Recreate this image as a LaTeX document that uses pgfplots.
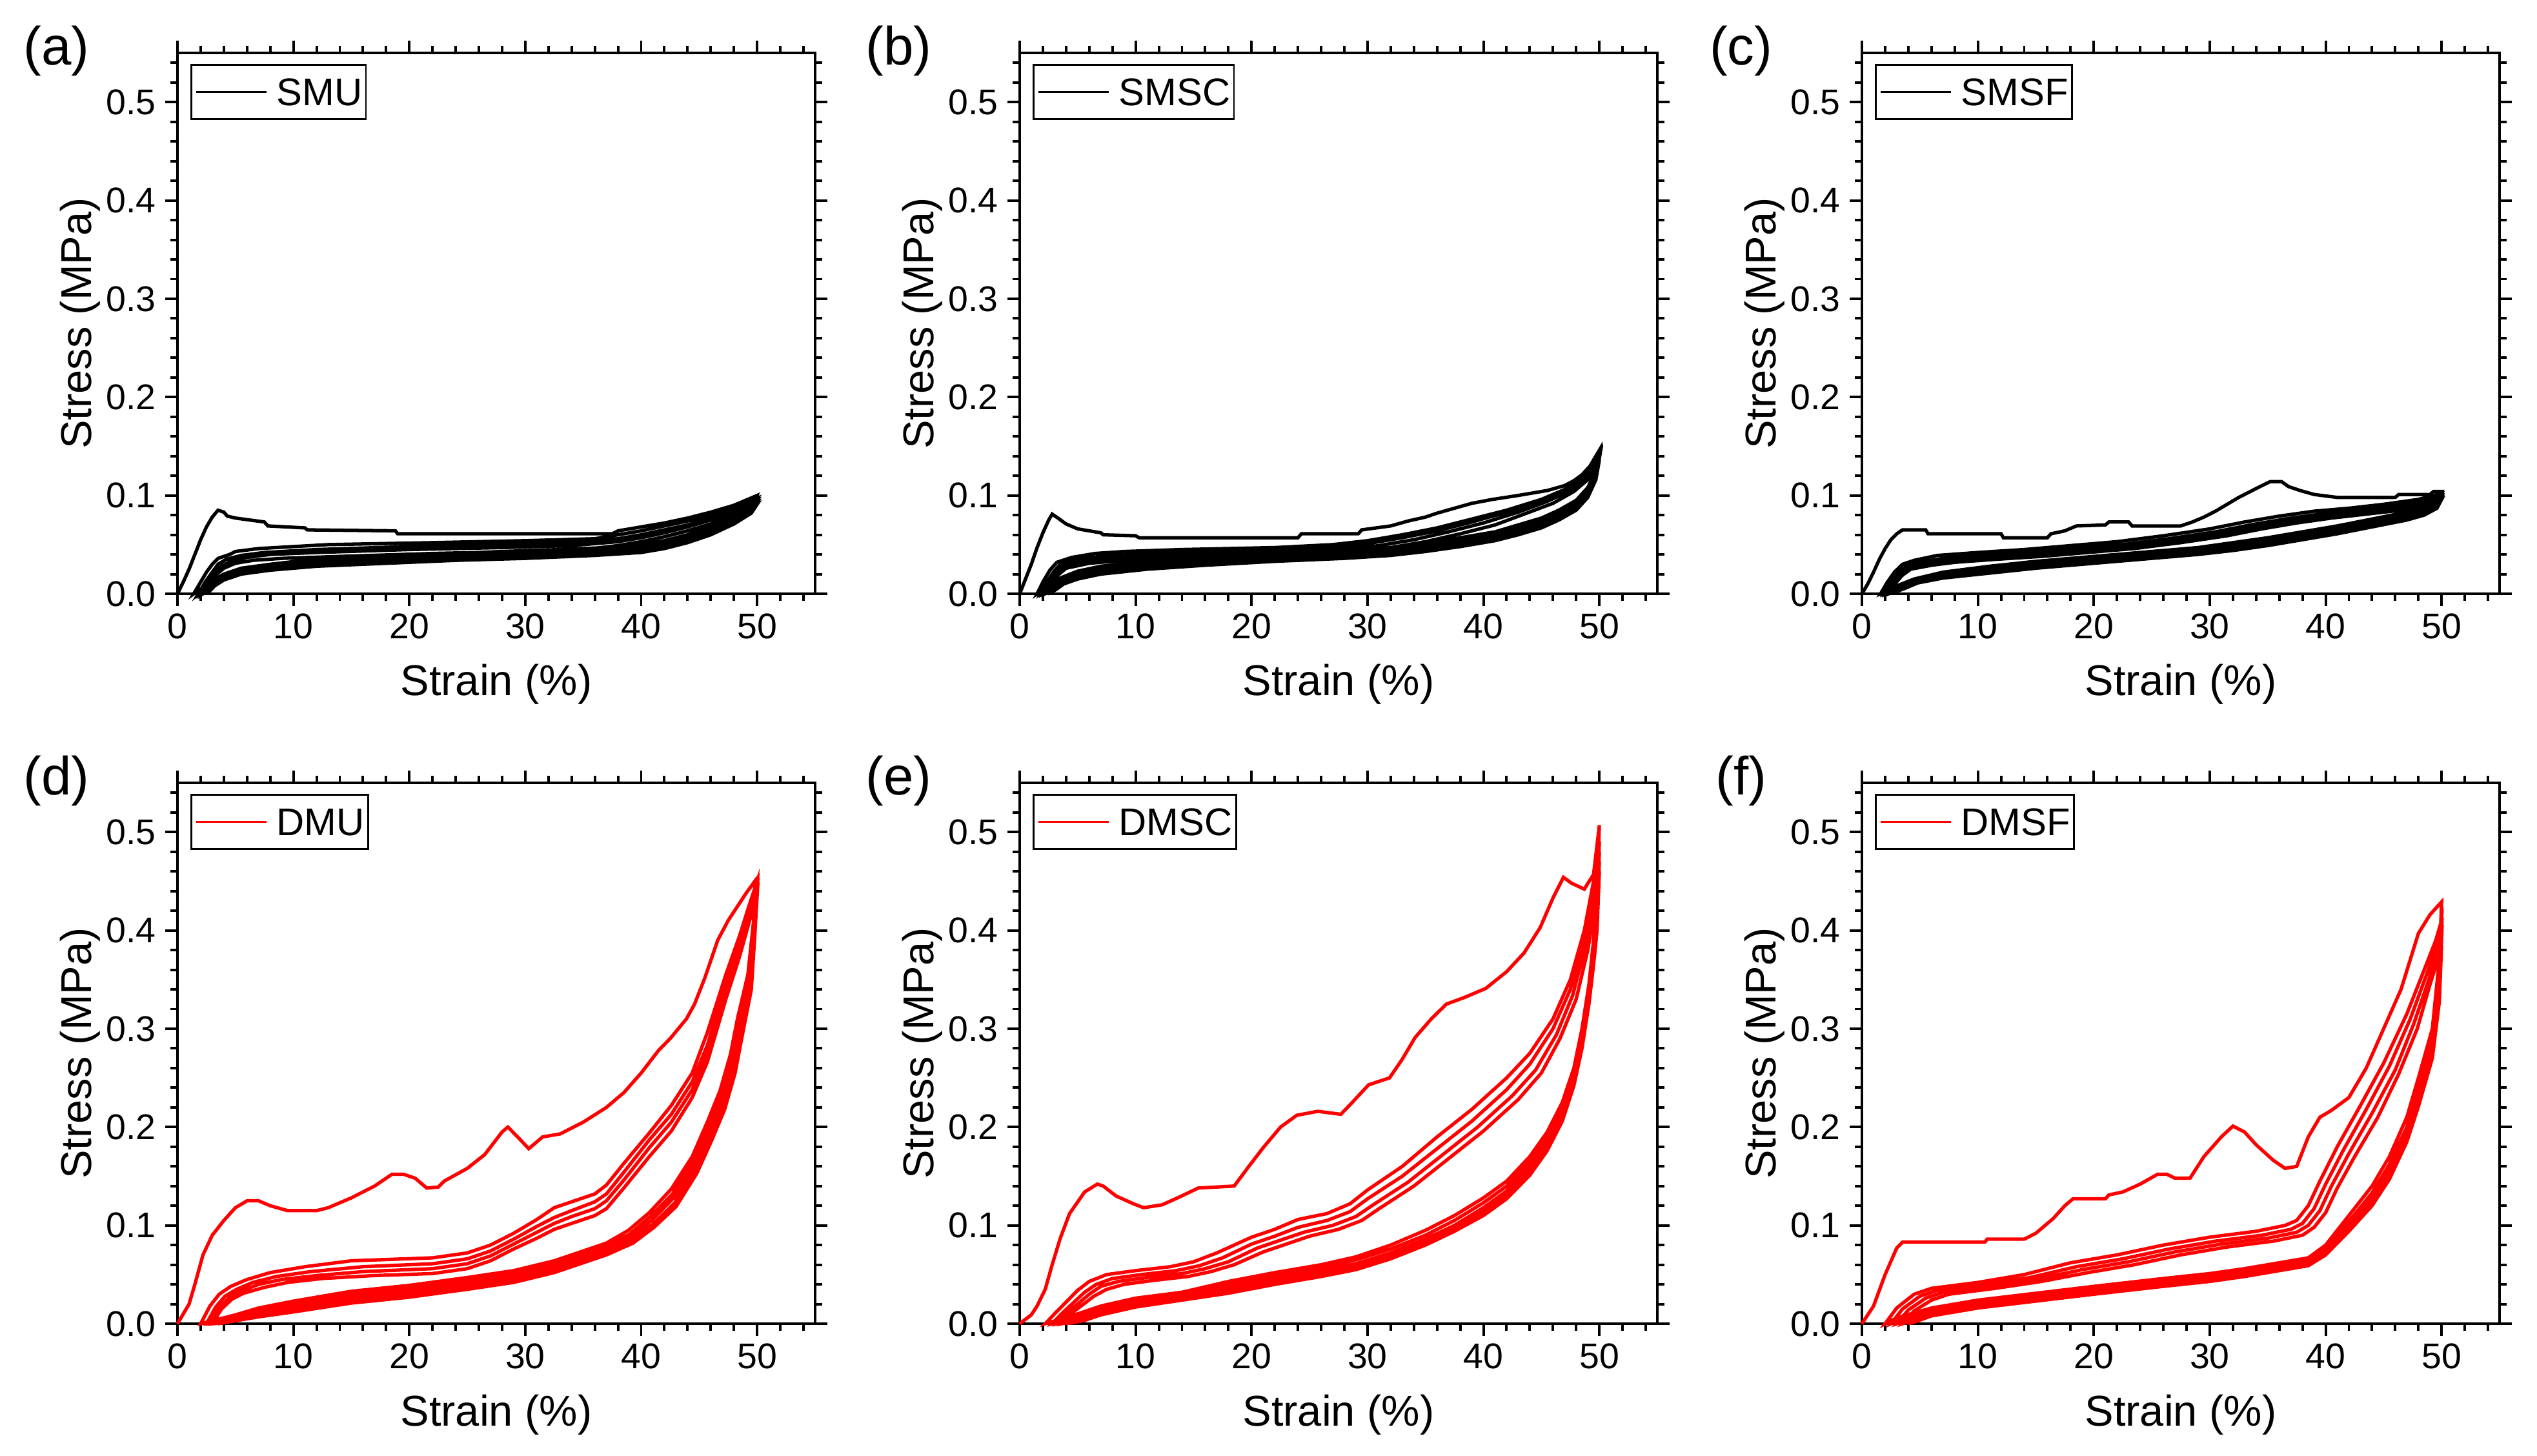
\documentclass[border=0pt]{standalone}
\usepackage{fontspec}
\setmainfont{Liberation Sans}
\usepackage{pgfplots}
\pgfplotsset{compat=1.18}
\definecolor{dred}{RGB}{255,0,0}
\tikzset{plab/.style={font=\fontsize{9.5}{11}\selectfont, anchor=center, inner sep=0pt}}
\pgfplotsset{
 panel/.style={
  scale only axis, width=39.52mm, height=33.52mm,
  xmin=0, xmax=55, ymin=0, ymax=0.55, clip=false,
  xtick={0,10,20,30,40,50}, ytick={0,0.1,0.2,0.3,0.4,0.5},
  minor xtick={2,4,6,8,12,14,16,18,22,24,26,28,32,34,36,38,42,44,46,48,52,54},
  minor ytick={0.02,0.04,0.06,0.08,0.12,0.14,0.16,0.18,0.22,0.24,0.26,0.28,0.32,0.34,0.36,0.38,0.42,0.44,0.46,0.48,0.52,0.54},
  tick align=outside,
  major tick length=0.75mm, minor tick length=0.44mm,
  tick style={black, line width=0.45pt},
  axis line style={line width=0.5pt},
  scaled y ticks=false,
  yticklabel style={/pgf/number format/fixed, /pgf/number format/fixed zerofill, /pgf/number format/precision=1},
  /pgf/number format/assume math mode=true,
  tick label style={font=\fontsize{6.3}{7}\selectfont},
  xticklabel style={anchor=base, inner sep=0pt, yshift=-2.04mm},
  yticklabel style={anchor=east, inner sep=0pt, xshift=-0.52mm},
  label style={font=\fontsize{7.6}{9}\selectfont},
  xlabel={Strain (\%)}, ylabel={Stress (MPa)},
  xlabel style={at={(axis description cs:0.5,-0.1885)}, anchor=base, inner sep=0pt},
  ylabel style={at={(axis description cs:-0.1355,0.5)}, anchor=base, inner sep=0pt},
  legend style={at={(axis description cs:0,1)}, anchor=north west, xshift=0.8mm, yshift=-0.68mm,
    draw=black, line width=0.3pt, inner sep=0pt, row sep=0pt, column sep=0pt,
    font=\fontsize{6.8}{8}\selectfont, nodes={inner sep=0pt, text depth=, text height=}},
  legend image code/.code={\draw[#1, line width=0.37pt] (0.32mm,0mm) -- (4.68mm,0mm); \path[draw=none] (0mm,0mm) -- (5.3mm,0mm);},
 },
}
\newcommand{\lent}[1]{\addlegendentry{\vrule width 0pt height 2.54mm depth 0.82mm #1\hspace*{0.22mm}}}
\begin{document}
\begin{tikzpicture}
\useasboundingbox (0,0) rectangle (157.24mm,90.2mm);
% ---------------- (a) SMU
\begin{axis}[panel, at={(11.0mm,53.4mm)}, anchor=south west]
\addplot[black, line width=0.6pt] coordinates {
(0,0) (0.5,0.012) (1,0.025) (1.5,0.04) (2,0.055) (2.5,0.068) (3,0.078) (3.5,0.085) (4,0.083) (4.3,0.079) (5,0.077) (7.5,0.073) (7.8,0.069) (11,0.067) (11.2,0.065) (18.8,0.064) (19,0.061) (37.5,0.061) (38,0.064) (40,0.068) (42,0.072) (44,0.077) (46,0.083) (48,0.09) (50,0.1)
(49.8,0.092) (49,0.085) (48,0.078) (46,0.068) (44,0.06) (42,0.054) (40,0.05) (37,0.047) (33,0.045) (28,0.043) (22,0.04) (16,0.037) (11,0.034) (8,0.03) (5.5,0.026) (4,0.02) (3,0.013) (2,0.005) (1.4,0)
(2,0.012) (2.5,0.022) (3,0.03) (3.5,0.036) (4.5,0.04) (5,0.043) (7,0.046) (13,0.05) (22,0.052) (30,0.054) (36,0.056) (38,0.06) (40,0.064) (42,0.069) (44,0.074) (46,0.08) (48,0.087) (50,0.097)
(49.5,0.088) (48,0.077) (46,0.066) (44,0.058) (42,0.052) (40,0.048) (36,0.045) (30,0.042) (24,0.04) (18,0.036) (12,0.033) (8,0.029) (5.5,0.025) (4,0.019) (3,0.012) (2.2,0.004) (1.8,0)
(2.4,0.012) (3,0.022) (3.5,0.03) (4.2,0.035) (5.5,0.039) (7.5,0.042) (12,0.045) (20,0.048) (28,0.05) (34,0.052) (38,0.056) (40,0.06) (42,0.065) (44,0.07) (46,0.077) (48,0.085) (50,0.095)
(49.5,0.086) (48,0.075) (46,0.064) (44,0.056) (42,0.05) (40,0.046) (36,0.043) (30,0.04) (24,0.038) (18,0.034) (12,0.031) (8,0.027) (5.5,0.023) (4,0.017) (3,0.01) (2.4,0.003) (2,0)
(2.6,0.012) (3.2,0.021) (3.8,0.028) (4.6,0.033) (6,0.037) (8,0.04) (12,0.042) (20,0.045) (28,0.047) (34,0.049) (38,0.053) (40,0.057) (42,0.062) (44,0.068) (46,0.075) (48,0.083) (50,0.093)
(49.5,0.084) (48,0.073) (46,0.062) (44,0.054) (42,0.048) (40,0.044) (36,0.041) (30,0.038) (24,0.036) (18,0.033) (12,0.03) (8,0.026) (5.5,0.022) (4,0.016) (3.2,0.009) (2.6,0.003) (2.2,0)
(2.8,0.011) (3.4,0.02) (4,0.026) (5,0.031) (6.5,0.034) (9,0.036) (14,0.038) (22,0.041) (30,0.043) (35,0.045) (38,0.049) (40,0.053) (42,0.058) (44,0.064) (46,0.071) (48,0.08) (50,0.091)
(49.5,0.082) (48,0.071) (46,0.06) (44,0.052) (42,0.046) (40,0.042) (36,0.039) (30,0.036) (24,0.034) (18,0.031) (12,0.028) (8,0.024) (5.5,0.02) (4,0.014) (3.2,0.008) (2.8,0.003) (2.4,0)
};
\lent{SMU}
\node[plab] at (axis description cs:-0.1896,1.0042) {(a)};
\end{axis}
% ---------------- (b) SMSC
\begin{axis}[panel, at={(63.2mm,53.4mm)}, anchor=south west]
\addplot[black, line width=0.6pt] coordinates {
(0,0) (0.5,0.015) (1,0.03) (1.5,0.047) (2,0.062) (2.5,0.075) (2.8,0.081) (3.3,0.077) (4,0.071) (5,0.066) (7,0.062) (7.2,0.06) (10,0.059) (10.3,0.057) (24,0.057) (24.3,0.061) (29.2,0.061) (29.5,0.065) (32,0.069) (33.5,0.074) (35,0.078) (36,0.082) (37.5,0.087) (39,0.092) (40.8,0.096) (43,0.1) (45.5,0.105) (47,0.11) (47.8,0.115) (48.5,0.121) (49.2,0.13) (50,0.146)
(49.7,0.125) (49,0.108) (48,0.095) (46.5,0.085) (45,0.077) (43,0.07) (41,0.063) (38,0.057) (35,0.051) (32,0.047) (28,0.044) (22,0.041) (16,0.037) (11,0.033) (7,0.028) (5,0.023) (3.5,0.016) (2.5,0.008) (1.5,0)
(2,0.012) (2.6,0.024) (3.2,0.032) (4.5,0.037) (6.5,0.041) (9,0.043) (14,0.045) (22,0.047) (27,0.05) (30,0.054) (33,0.06) (36,0.067) (39,0.076) (42,0.085) (45,0.096) (47,0.106) (48.5,0.118) (49.5,0.13) (50,0.142)
(49.7,0.122) (49,0.105) (48,0.092) (46.5,0.082) (45,0.074) (43,0.067) (41,0.06) (38,0.054) (35,0.049) (32,0.045) (28,0.042) (22,0.039) (16,0.035) (11,0.031) (7,0.026) (5,0.021) (3.5,0.014) (2.6,0.006) (1.8,0)
(2.3,0.011) (2.9,0.022) (3.5,0.03) (5,0.035) (7,0.038) (10,0.04) (15,0.042) (22,0.044) (27,0.047) (30,0.051) (33,0.057) (36,0.064) (39,0.073) (42,0.083) (45,0.094) (47,0.104) (48.5,0.116) (49.5,0.128) (50,0.14)
(49.7,0.12) (49,0.102) (48,0.089) (46.5,0.079) (45,0.071) (43,0.064) (41,0.058) (38,0.052) (35,0.047) (32,0.043) (28,0.04) (22,0.037) (16,0.033) (11,0.029) (7,0.024) (5,0.019) (3.6,0.012) (2.8,0.005) (2,0)
(2.5,0.011) (3.1,0.021) (3.8,0.028) (5.5,0.033) (8,0.036) (12,0.038) (18,0.04) (24,0.042) (28,0.045) (31,0.049) (34,0.055) (37,0.063) (40,0.072) (43,0.083) (45.5,0.094) (47.5,0.105) (48.8,0.117) (49.6,0.128) (50,0.138)
(49.7,0.118) (49,0.1) (48,0.087) (46.5,0.077) (45,0.069) (43,0.062) (41,0.056) (38,0.05) (35,0.045) (32,0.041) (28,0.038) (22,0.035) (16,0.031) (11,0.027) (7,0.022) (5,0.017) (3.7,0.011) (3,0.004) (2.2,0)
(2.7,0.01) (3.3,0.019) (4,0.026) (6,0.031) (9,0.034) (13,0.036) (19,0.038) (25,0.04) (29,0.043) (32,0.047) (35,0.053) (38,0.061) (41,0.07) (43.5,0.081) (46,0.092) (47.8,0.104) (49,0.116) (49.7,0.127) (50,0.136)
(49.7,0.116) (49,0.098) (48,0.085) (46.5,0.075) (45,0.067) (43,0.06) (41,0.054) (38,0.048) (35,0.043) (32,0.039) (28,0.036) (22,0.033) (16,0.029) (11,0.025) (7,0.02) (5,0.015) (3.8,0.01) (3.1,0.004) (2.4,0)
};
\lent{SMSC}
\node[plab] at (axis description cs:-0.1896,1.0042) {(b)};
\end{axis}
% ---------------- (c) SMSF
\begin{axis}[panel, at={(115.4mm,53.4mm)}, anchor=south west]
\addplot[black, line width=0.6pt] coordinates {
(0,0) (0.5,0.01) (1,0.022) (1.5,0.035) (2,0.046) (2.5,0.055) (3,0.061) (3.5,0.065) (5.5,0.065) (5.7,0.061) (12,0.061) (12.2,0.057) (16,0.057) (16.3,0.061) (17.5,0.064) (18.5,0.069) (21,0.07) (21.3,0.073) (23,0.073) (23.3,0.069) (27.5,0.069) (28.5,0.073) (29.5,0.078) (30.5,0.084) (31.5,0.091) (32.5,0.098) (33.5,0.104) (34.5,0.11) (35.2,0.114) (36.2,0.114) (36.8,0.109) (37.8,0.105) (39,0.101) (41,0.098) (46,0.098) (46.3,0.101) (49,0.101) (49.3,0.104) (50,0.104)
(49.6,0.095) (48.5,0.088) (47,0.083) (44,0.076) (41,0.069) (38,0.063) (35,0.057) (32,0.052) (29,0.047) (25,0.043) (20,0.038) (15,0.033) (11,0.028) (7,0.022) (4.5,0.015) (3,0.008) (2,0.002) (1.6,0)
(2.2,0.012) (2.8,0.022) (3.5,0.03) (4.5,0.034) (6.5,0.039) (10,0.042) (14,0.045) (18,0.049) (22,0.053) (26,0.059) (30,0.066) (33,0.073) (36,0.079) (39,0.084) (42,0.087) (45,0.091) (48,0.096) (50,0.102)
(49.6,0.093) (48.5,0.086) (47,0.081) (44,0.074) (41,0.067) (38,0.061) (35,0.055) (32,0.05) (29,0.046) (25,0.042) (20,0.037) (15,0.032) (11,0.027) (7,0.021) (4.5,0.014) (3.2,0.007) (2.3,0.002) (1.9,0)
(2.5,0.012) (3.1,0.021) (3.8,0.028) (5,0.032) (7,0.036) (10.5,0.039) (14.5,0.042) (18.5,0.046) (22.5,0.05) (26.5,0.056) (30.5,0.063) (33.5,0.07) (36.5,0.076) (39.5,0.081) (42.5,0.085) (45.5,0.089) (48,0.094) (50,0.1)
(49.6,0.091) (48.5,0.084) (47,0.079) (44,0.072) (41,0.065) (38,0.059) (35,0.053) (32,0.048) (29,0.044) (25,0.04) (20,0.035) (15,0.03) (11,0.025) (7,0.019) (4.6,0.013) (3.4,0.006) (2.5,0.002) (2.1,0)
(2.7,0.011) (3.3,0.02) (4,0.026) (5.5,0.03) (7.5,0.034) (11,0.037) (15,0.04) (19,0.044) (23,0.048) (27,0.054) (31,0.061) (34,0.068) (37,0.074) (40,0.079) (43,0.083) (46,0.087) (48.5,0.092) (50,0.098)
(49.6,0.089) (48.5,0.082) (47,0.077) (44,0.07) (41,0.063) (38,0.057) (35,0.051) (32,0.046) (29,0.042) (25,0.038) (20,0.033) (15,0.028) (11,0.023) (7,0.018) (4.7,0.012) (3.5,0.006) (2.7,0.002) (2.3,0)
(2.9,0.011) (3.5,0.019) (4.2,0.025) (6,0.029) (8,0.032) (11.5,0.035) (15.5,0.038) (19.5,0.042) (23.5,0.046) (27.5,0.052) (31.5,0.059) (34.5,0.066) (37.5,0.072) (40.5,0.077) (43.5,0.081) (46.5,0.085) (48.7,0.09) (50,0.096)
(49.6,0.087) (48.5,0.08) (47,0.075) (44,0.068) (41,0.061) (38,0.055) (35,0.049) (32,0.044) (29,0.04) (25,0.036) (20,0.031) (15,0.026) (11,0.021) (7,0.016) (4.8,0.011) (3.6,0.005) (2.9,0.002) (2.5,0)
};
\lent{SMSF}
\node[plab] at (axis description cs:-0.1896,1.0042) {(c)};
\end{axis}
% ---------------- (d) DMU
\begin{axis}[panel, at={(11.0mm,8.16mm)}, anchor=south west]
\addplot[dred, line width=0.6pt] coordinates {
(0,0) (0.5,0.01) (1,0.02) (1.5,0.04) (2.2,0.07) (3,0.09) (4,0.105) (5,0.118) (6,0.125) (7,0.125) (8,0.12) (9.5,0.115) (12,0.115) (13,0.118) (15,0.128) (17,0.14) (18.5,0.152) (19.5,0.152) (20.5,0.148) (21.5,0.138) (22.5,0.139) (23,0.145) (25,0.158) (26.5,0.172) (28,0.195) (28.5,0.2) (29.5,0.188) (30.3,0.178) (31.5,0.19) (33,0.193) (35,0.205) (37,0.22) (38.5,0.235) (40,0.255) (41.5,0.278) (42.5,0.29) (43.9,0.31) (44.6,0.325) (45.5,0.352) (46.6,0.39) (47.5,0.41) (49,0.437) (49.8,0.45)
(49.7,0.41) (49.2,0.355) (48.3,0.31) (47.7,0.274) (46.8,0.237) (45.7,0.205) (44.4,0.17) (42.6,0.137) (40.7,0.113) (38.9,0.095) (37,0.082) (34,0.07) (32.5,0.064) (29,0.054) (25,0.047) (20,0.039) (15,0.033) (10,0.023) (7,0.016) (5,0.009) (3,0.003) (2,0)
(2.8,0.018) (3.6,0.03) (4.6,0.038) (6,0.045) (8,0.052) (11,0.058) (15,0.064) (22,0.067) (25,0.072) (27,0.08) (29,0.092) (31,0.106) (32.5,0.118) (34,0.124) (36,0.132) (37,0.141) (38.5,0.163) (40.7,0.194) (42.6,0.222) (44.4,0.255) (45.7,0.296) (47.3,0.355) (48.5,0.395) (49.3,0.425) (50,0.45)
(49.8,0.41) (49.3,0.352) (48.4,0.305) (47.8,0.27) (46.9,0.232) (45.8,0.2) (44.5,0.166) (42.7,0.132) (40.8,0.109) (39,0.091) (37,0.079) (34,0.067) (32.5,0.061) (29,0.051) (25,0.044) (20,0.036) (15,0.03) (10,0.02) (7,0.013) (5,0.007) (3.5,0.002) (2.5,0)
(3.3,0.017) (4.1,0.028) (5.1,0.035) (6.5,0.042) (8.5,0.048) (11.5,0.053) (16,0.058) (22,0.061) (25,0.066) (27,0.074) (29,0.086) (31,0.099) (32.5,0.108) (34,0.115) (36,0.124) (37,0.132) (38.5,0.154) (40.7,0.187) (42.6,0.213) (44.4,0.246) (45.7,0.283) (47.3,0.345) (48.5,0.388) (49.3,0.42) (50,0.445)
(49.8,0.405) (49.4,0.348) (48.5,0.3) (47.9,0.265) (47,0.227) (45.9,0.196) (44.6,0.161) (42.8,0.128) (40.9,0.105) (39.1,0.088) (37,0.076) (34,0.064) (32.5,0.058) (29,0.048) (25,0.041) (20,0.033) (15,0.027) (10,0.017) (7,0.011) (5,0.005) (3.8,0.001) (2.8,0)
(3.6,0.016) (4.4,0.026) (5.4,0.033) (7,0.04) (9,0.045) (12,0.049) (16,0.053) (22,0.056) (25,0.061) (27,0.069) (29,0.081) (31,0.093) (32.5,0.102) (34,0.109) (36,0.117) (37,0.125) (38.5,0.146) (40.7,0.179) (42.6,0.205) (44.4,0.238) (45.7,0.275) (47.3,0.338) (48.5,0.381) (49.3,0.414) (50,0.44)
(49.8,0.4) (49.5,0.344) (48.6,0.296) (48,0.26) (47.1,0.222) (46,0.191) (44.7,0.157) (42.9,0.123) (41,0.101) (39.2,0.085) (37,0.073) (34,0.061) (32.5,0.055) (29,0.045) (25,0.038) (20,0.03) (15,0.024) (10,0.014) (7,0.009) (5,0.004) (4,0.001) (3,0)
(3.8,0.015) (4.7,0.025) (5.7,0.031) (7.5,0.037) (9.5,0.042) (12.5,0.046) (17,0.049) (22,0.051) (25,0.056) (27,0.064) (29,0.076) (31,0.087) (32.5,0.096) (34,0.102) (36,0.11) (37,0.117) (38.5,0.138) (40.7,0.17) (42.6,0.196) (44.4,0.23) (45.7,0.266) (47.3,0.33) (48.5,0.374) (49.3,0.408) (50,0.435)
(49.8,0.395) (49.5,0.34) (48.7,0.292) (48.1,0.255) (47.2,0.218) (46.1,0.187) (44.8,0.153) (43,0.119) (41.1,0.098) (39.3,0.082) (37,0.07) (34,0.058) (32.5,0.052) (29,0.042) (25,0.035) (20,0.027) (15,0.021) (10,0.012) (7,0.007) (5,0.003) (3.5,0)
};
\lent{DMU}
\node[plab] at (axis description cs:-0.1896,1.0042) {(d)};
\end{axis}
% ---------------- (e) DMSC
\begin{axis}[panel, at={(63.2mm,8.16mm)}, anchor=south west]
\addplot[dred, line width=0.6pt] coordinates {
(0,0) (1,0.009) (1.5,0.018) (2.2,0.035) (2.8,0.06) (3.5,0.087) (4.3,0.112) (5.6,0.134) (6.7,0.142) (7.2,0.14) (8.3,0.13) (9.8,0.122) (10.7,0.118) (12.3,0.121) (13.8,0.129) (15.4,0.138) (18.5,0.14) (19.7,0.159) (21,0.179) (22.5,0.2) (23.9,0.212) (25.7,0.216) (27.7,0.213) (28.6,0.224) (30.1,0.243) (31.9,0.25) (33,0.269) (34.1,0.291) (35.5,0.31) (36.8,0.325) (38.4,0.332) (40.2,0.341) (42,0.358) (43.5,0.377) (44.9,0.403) (46,0.433) (46.9,0.454) (47.6,0.448) (48.7,0.442) (49.5,0.457) (50,0.507)
(49.8,0.44) (49.5,0.39) (49.1,0.345) (48.5,0.3) (47.8,0.26) (46.8,0.225) (45.5,0.195) (44,0.17) (42,0.145) (40,0.128) (37.5,0.11) (35,0.095) (32,0.08) (29,0.068) (26,0.06) (22,0.052) (18,0.043) (14,0.032) (10,0.026) (7,0.018) (4.5,0.008) (2.2,0)
(3,0.01) (4,0.022) (5,0.034) (6,0.043) (7.5,0.05) (10,0.054) (13,0.058) (15,0.063) (17,0.072) (20,0.088) (22,0.096) (24,0.106) (26.5,0.112) (28.5,0.122) (30,0.136) (33,0.16) (36,0.19) (39,0.218) (42,0.25) (44,0.275) (46,0.31) (47.5,0.35) (48.7,0.4) (49.5,0.45) (50,0.49)
(49.8,0.43) (49.5,0.385) (49.1,0.34) (48.5,0.295) (47.8,0.255) (46.8,0.22) (45.5,0.19) (44,0.165) (42,0.14) (40,0.123) (37.5,0.105) (35,0.09) (32,0.076) (29,0.065) (26,0.057) (22,0.049) (18,0.04) (14,0.03) (10,0.023) (7,0.015) (4.7,0.006) (2.8,0)
(3.6,0.01) (4.6,0.021) (5.6,0.032) (6.6,0.04) (8,0.046) (10.5,0.05) (13.5,0.054) (15.5,0.059) (17.5,0.067) (20,0.081) (22,0.089) (24,0.098) (26.5,0.105) (28.5,0.114) (30,0.127) (33,0.15) (36,0.178) (39,0.206) (42,0.238) (44,0.264) (46,0.3) (47.5,0.34) (48.7,0.39) (49.5,0.44) (50,0.48)
(49.8,0.42) (49.5,0.378) (49.1,0.334) (48.5,0.29) (47.8,0.25) (46.8,0.215) (45.5,0.185) (44,0.16) (42,0.135) (40,0.118) (37.5,0.1) (35,0.086) (32,0.072) (29,0.061) (26,0.054) (22,0.046) (18,0.037) (14,0.028) (10,0.021) (7,0.013) (5,0.005) (3.2,0)
(4,0.01) (5,0.02) (6,0.03) (7,0.038) (8.5,0.043) (11,0.047) (14,0.051) (16,0.056) (18,0.063) (20.5,0.077) (22.5,0.085) (24.5,0.093) (27,0.1) (29,0.109) (30.5,0.121) (33.5,0.144) (36.5,0.172) (39.5,0.2) (42.5,0.232) (44.5,0.258) (46.3,0.294) (47.7,0.334) (48.8,0.384) (49.6,0.435) (50,0.47)
(49.8,0.41) (49.5,0.372) (49.1,0.33) (48.5,0.285) (47.8,0.246) (46.8,0.21) (45.5,0.18) (44,0.155) (42,0.131) (40,0.114) (37.5,0.097) (35,0.083) (32,0.069) (29,0.058) (26,0.051) (22,0.043) (18,0.034) (14,0.026) (10,0.019) (7,0.011) (5.2,0.004) (3.6,0)
(4.4,0.01) (5.4,0.019) (6.4,0.028) (7.5,0.035) (9,0.04) (11.5,0.044) (14.5,0.048) (16.5,0.053) (18.5,0.06) (21,0.073) (23,0.081) (25,0.089) (27.5,0.096) (29.5,0.105) (31,0.117) (34,0.14) (37,0.168) (40,0.196) (43,0.228) (45,0.255) (46.6,0.29) (48,0.33) (49,0.38) (49.7,0.43) (50,0.46)
(49.8,0.4) (49.5,0.365) (49.1,0.325) (48.5,0.28) (47.8,0.242) (46.8,0.206) (45.5,0.176) (44,0.151) (42,0.127) (40,0.11) (37.5,0.094) (35,0.08) (32,0.066) (29,0.055) (26,0.048) (22,0.04) (18,0.031) (14,0.024) (10,0.017) (7,0.009) (5.5,0.003) (4,0)
};
\lent{DMSC}
\node[plab] at (axis description cs:-0.1896,1.0042) {(e)};
\end{axis}
% ---------------- (f) DMSF
\begin{axis}[panel, at={(115.4mm,8.16mm)}, anchor=south west]
\addplot[dred, line width=0.6pt] coordinates {
(0,0) (1,0.018) (2,0.05) (3,0.077) (3.5,0.083) (10.6,0.083) (10.8,0.086) (14,0.086) (15,0.092) (16.5,0.107) (17.5,0.12) (18.2,0.127) (21,0.127) (21.3,0.131) (22.5,0.134) (24,0.142) (25.5,0.152) (26.3,0.152) (27,0.148) (28.3,0.148) (29.5,0.17) (31,0.19) (32,0.201) (33,0.195) (34,0.182) (35.5,0.166) (36.5,0.158) (37.5,0.16) (38.5,0.19) (39.5,0.21) (40.5,0.217) (42,0.23) (43.5,0.26) (45,0.3) (46.5,0.34) (48,0.397) (49,0.416) (50,0.429)
(49.8,0.37) (49.2,0.3) (48,0.25) (47,0.21) (45.5,0.17) (44,0.14) (42,0.11) (40,0.08) (38.5,0.067) (36,0.062) (33,0.056) (30,0.051) (26,0.046) (20,0.038) (15,0.031) (10,0.024) (6,0.016) (3,0.006) (2,0)
(3,0.016) (4.5,0.03) (6,0.036) (10,0.042) (14,0.05) (18,0.062) (22,0.07) (26,0.08) (30,0.088) (34,0.094) (36.5,0.1) (37.5,0.105) (38.5,0.12) (39.5,0.145) (41,0.18) (43,0.222) (45,0.265) (47,0.315) (48.5,0.36) (49.5,0.39) (50,0.41)
(49.8,0.35) (49.2,0.29) (48,0.24) (47,0.2) (45.5,0.162) (44,0.133) (42,0.104) (40,0.077) (38.5,0.065) (36,0.06) (33,0.054) (30,0.049) (26,0.044) (20,0.036) (15,0.029) (10,0.022) (6,0.014) (3.5,0.005) (2.5,0)
(3.5,0.015) (5,0.028) (6.5,0.034) (10.5,0.04) (14.5,0.047) (18.5,0.058) (22.5,0.066) (26.5,0.076) (30.5,0.084) (34.5,0.09) (37,0.096) (38,0.102) (39,0.117) (40,0.142) (41.5,0.176) (43.5,0.218) (45.5,0.262) (47.3,0.31) (48.7,0.355) (49.6,0.385) (50,0.4)
(49.8,0.34) (49.2,0.282) (48,0.232) (47,0.194) (45.5,0.156) (44,0.128) (42,0.1) (40,0.074) (38.5,0.063) (36,0.058) (33,0.052) (30,0.047) (26,0.042) (20,0.034) (15,0.027) (10,0.02) (6,0.012) (4,0.004) (3,0)
(4,0.014) (5.5,0.026) (7,0.032) (11,0.038) (15,0.045) (19,0.055) (23,0.063) (27,0.073) (31,0.081) (35,0.087) (37.5,0.093) (38.5,0.1) (39.5,0.115) (40.5,0.14) (42,0.173) (44,0.214) (46,0.258) (47.6,0.305) (48.9,0.35) (49.7,0.38) (50,0.392)
(49.8,0.333) (49.2,0.275) (48,0.226) (47,0.189) (45.5,0.151) (44,0.124) (42,0.097) (40,0.072) (38.5,0.061) (36,0.056) (33,0.05) (30,0.045) (26,0.04) (20,0.032) (15,0.025) (10,0.018) (6,0.01) (4.3,0.003) (3.5,0)
(4.5,0.013) (6,0.024) (7.5,0.03) (11.5,0.036) (15.5,0.043) (19.5,0.052) (23.5,0.06) (27.5,0.07) (31.5,0.078) (35.5,0.084) (38,0.09) (39,0.098) (40,0.113) (41,0.138) (42.5,0.17) (44.5,0.21) (46.3,0.254) (47.9,0.3) (49,0.345) (49.8,0.375) (50,0.385)
(49.8,0.327) (49.2,0.27) (48,0.221) (47,0.185) (45.5,0.147) (44,0.12) (42,0.094) (40,0.07) (38.5,0.059) (36,0.054) (33,0.048) (30,0.043) (26,0.038) (20,0.03) (15,0.023) (10,0.016) (6,0.008) (4.6,0.002) (4,0)
};
\lent{DMSF}
\node[plab] at (axis description cs:-0.1896,1.0042) {(f)};
\end{axis}
\end{tikzpicture}
\end{document}
